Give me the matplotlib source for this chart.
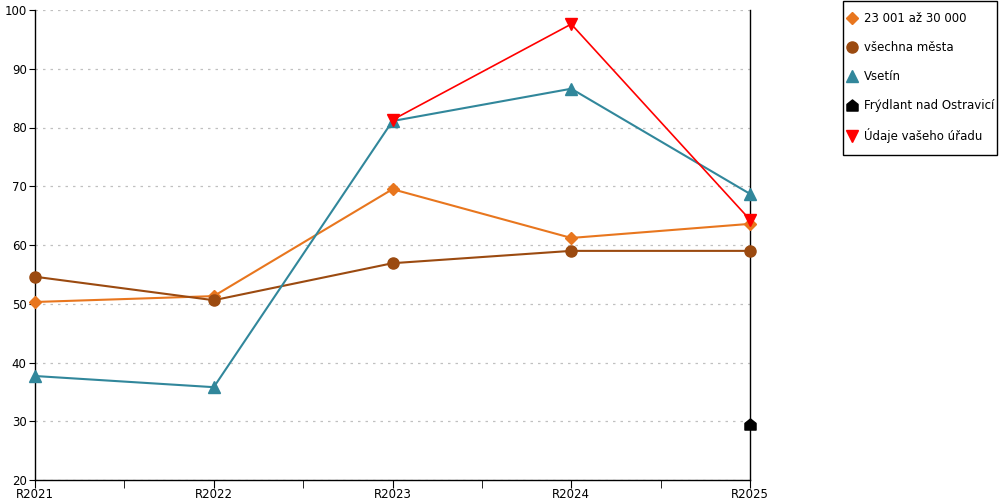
import numpy as np
import matplotlib.pyplot as plt
from matplotlib.path import Path
from matplotlib.patches import Rectangle
from matplotlib.ticker import MultipleLocator

years = ['R2021', 'R2022', 'R2023', 'R2024', 'R2025']

skupina = [50.3, 51.3, 69.5, 61.2, 63.6]
vsechna = [54.6, 50.6, 56.9, 59.0, 59.0]
vsetin = [37.7, 35.8, 81.1, 86.6, 68.7]
frydlant = [np.nan, np.nan, np.nan, np.nan, 29.5]
urad = [np.nan, np.nan, 81.3, 97.6, 64.3]

# house-shaped marker
house = Path([(-1, -1), (1, -1), (1, 0.2), (0, 1), (-1, 0.2), (-1, -1)],
             [Path.MOVETO] + [Path.LINETO] * 4 + [Path.CLOSEPOLY])

plt.rcParams['font.family'] = ['DejaVu Sans']

fig = plt.figure(figsize=(10, 5), dpi=100)
ax = fig.add_axes([0.035, 0.04, 0.715, 0.94])

x = np.arange(len(years))
ax.plot(x, skupina, color='#e8761e', marker='D', ms=6, lw=1.5, label='23 001 až 30 000', zorder=3, clip_on=False)
ax.plot(x, vsechna, color='#9b4a10', marker='o', ms=8, lw=1.5, label='všechna města', zorder=3, clip_on=False)
ax.plot(x, vsetin, color='#31879b', marker='^', ms=8, lw=1.5, label='Vsetín', zorder=3, clip_on=False)
ax.plot(x, frydlant, color='black', marker=house, ms=8, lw=1.5, label='Frýdlant nad Ostravicí', zorder=3, clip_on=False)
ax.plot(x, urad, color='#ff0000', marker='v', ms=8, lw=1.2, label='Údaje vašeho úřadu', zorder=4, clip_on=False)

ax.set_xlim(0, 4)
ax.set_ylim(20, 100)
ax.set_xticks(x)
ax.set_xticklabels(years, fontsize=8.5)
ax.xaxis.set_minor_locator(MultipleLocator(0.5))
ax.tick_params(axis='x', which='both', length=5.5, direction='out', pad=0)
ax.yaxis.set_major_locator(MultipleLocator(10))
ax.tick_params(axis='y', length=4, direction='out', labelsize=8.5, pad=2)
ax.grid(axis='y', color='#c0c0c0', ls=(0, (2, 4)), lw=0.9)
ax.set_axisbelow(True)

ax.spines['top'].set_visible(False)
for s in ['left', 'bottom', 'right']:
    ax.spines[s].set_linewidth(1.0)

# legend frame drawn separately so the padding matches the original
fig.patches.append(Rectangle((843 / 1000, 1 - 155 / 500), 154 / 1000, 154 / 500,
                             transform=fig.transFigure, fill=False,
                             edgecolor='black', lw=1.0))
leg = fig.legend(loc='upper left', bbox_to_anchor=(0.847, 1 - 12 / 500), frameon=False,
                 fontsize=8.5, handlelength=0.8, handletextpad=0.65,
                 labelspacing=1.35, borderpad=0, borderaxespad=0)
for h in leg.legend_handles:
    h.set_linestyle('none')

fig.savefig('out.png', dpi=100)
